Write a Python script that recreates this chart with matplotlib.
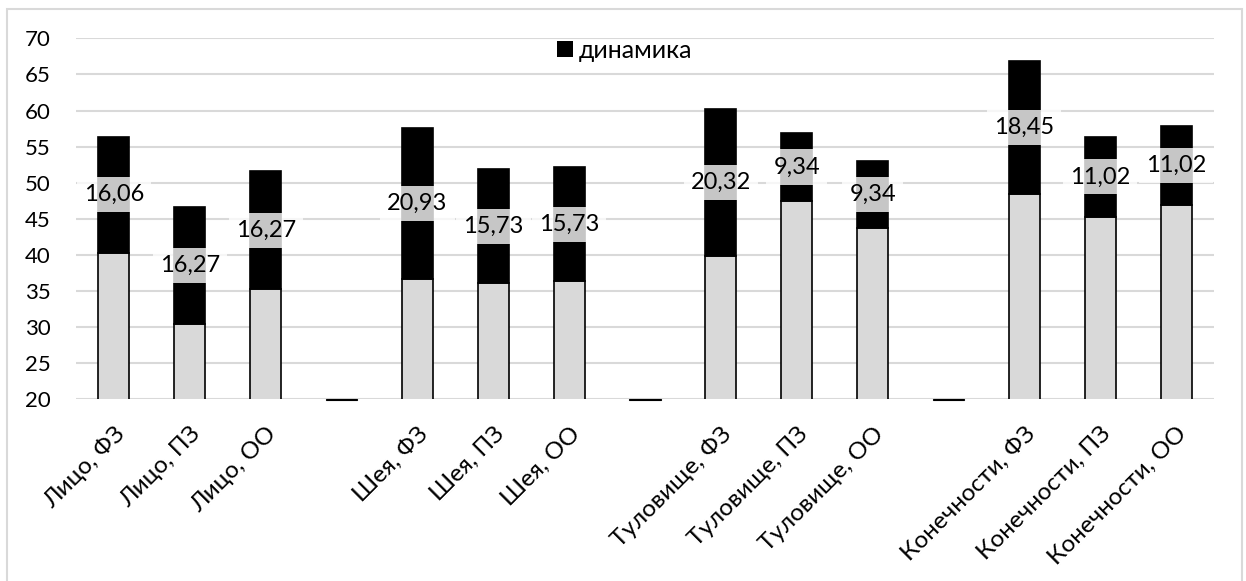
import matplotlib
matplotlib.use("Agg")
import matplotlib.pyplot as plt
from matplotlib.patches import Rectangle

plt.rcParams['font.family'] = ['Lato', 'DejaVu Sans']

# Body region / group labels (empty entries separate the groups)
categories = ["Лицо, ФЗ", "Лицо, ПЗ", "Лицо, ОО", "",
              "Шея, ФЗ", "Шея, ПЗ", "Шея, ОО", "",
              "Туловище, ФЗ", "Туловище, ПЗ", "Туловище, ОО", "",
              "Конечности, ФЗ", "Конечности, ПЗ", "Конечности, ОО"]

# Initial level (light segment)
base = [40.3, 30.4, 35.3, 0,
        36.7, 36.1, 36.4, 0,
        39.85, 47.5, 43.7, 0,
        48.4, 45.3, 46.9]

# Change over the course ("динамика", dark segment)
dynamics = [16.06, 16.27, 16.27, 0,
            20.93, 15.73, 15.73, 0,
            20.32, 9.34, 9.34, 0,
            18.45, 11.02, 11.02]

y_ticks = [20, 25, 30, 35, 40, 45, 50, 55, 60, 65, 70]

W, H = 1246, 581
fig = plt.figure(figsize=(W / 100, H / 100), dpi=100)
ax = fig.add_axes([76 / W, 1 - 399.3 / H, (1214 - 76) / W, (399.3 - 38.3) / H])

x = list(range(len(categories)))
ymin, ymax = y_ticks[0], y_ticks[-1]
bar_w = 0.41
grid_c = "#d9d9d9"

for xi, b, d in zip(x, base, dynamics):
    if b == 0 and d == 0:
        # empty separator slot: a flat stub sitting on the axis
        ax.bar(xi, -0.15, bottom=ymin, width=bar_w, color="#d9d9d9",
               edgecolor="black", linewidth=0.8, clip_on=False, zorder=2)
        continue
    ax.bar(xi, b, width=bar_w, color="#d9d9d9", edgecolor="black",
           linewidth=1.2, zorder=2)
    ax.bar(xi, d, bottom=b, width=bar_w, color="black", edgecolor="black",
           linewidth=1.2, zorder=2)
    ax.text(xi, b + d / 2, f"{d:.2f}".replace(".", ","), ha="center",
            va="center", fontsize=17, color="black", zorder=5,
            bbox=dict(boxstyle="square,pad=0.3", fc=(1, 1, 1, 0.78),
                      ec="none"))

# legend entry for the dark series only
ax.bar([0], [0], color="black", label="динамика")

ax.set_ylim(ymin, ymax)
ax.set_xlim(-0.5, len(categories) - 0.5)
ax.set_yticks(y_ticks)
ax.set_yticklabels([str(t) for t in y_ticks], fontsize=16)
ax.set_xticks(x)
ax.set_xticklabels(categories, rotation=45, ha="right", va="top",
                   rotation_mode="anchor", fontsize=17.5)
ax.tick_params(axis="x", length=0, pad=17)
ax.tick_params(axis="y", length=0, pad=18)

ax.set_axisbelow(True)
ax.yaxis.grid(True, color=grid_c, linewidth=1.5)
for s in ax.spines.values():
    s.set_visible(False)

leg = ax.legend(loc="center", bbox_to_anchor=(0.482, 0.967), frameon=False,
                fontsize=18, handlelength=0.65, handleheight=0.65,
                handletextpad=0.25, borderpad=0)

# light outer chart frame
fig.patches.append(Rectangle((7 / W, -0.02), (1242 - 7) / W, 1 - 9 / H + 0.02,
                             transform=fig.transFigure, fill=False,
                             edgecolor=grid_c, linewidth=1.5))

fig.savefig("out.png", dpi=100)
